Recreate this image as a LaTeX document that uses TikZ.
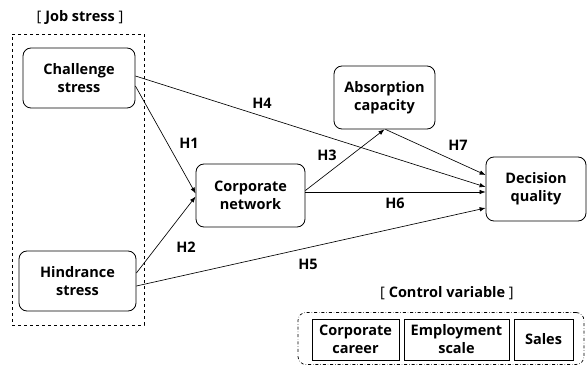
\documentclass[tikz,border=0pt]{standalone}
\usepackage{fontspec}
\setmainfont{Open Sans}
\usetikzlibrary{arrows.meta,positioning}

\begin{document}
\begin{tikzpicture}
		[x=1pt,y=-1pt,
		font=\fontsize{14.5}{18}\selectfont\bfseries,
		var/.style={draw,rounded corners=8pt,align=center,inner sep=0pt,
			line width=0.8pt},
		ctrl/.style={draw,align=center,inner sep=0pt,line width=0.8pt,
			minimum height=41pt},
		hyp/.style={-{Latex[length=6pt,width=4.5pt]},line width=0.65pt},
		lab/.style={inner sep=1pt}]
		\useasboundingbox (0,0) rectangle (587,366);
		% job stress group
		\node[draw,dashed,minimum width=132pt,minimum height=291pt,line width=0.7pt]
			(jobbox) at (78,179.5) {};
		\node (jobtitle) at (80,18) {{\mdseries[}\ Job stress\ {\mdseries]}};
		\node[var,minimum width=112pt,minimum height=60pt] (cs) at (79,78) {Challenge\\stress};
		\node[var,minimum width=117pt,minimum height=60pt] (hs) at (77.5,281) {Hindrance\\stress};
		% mediators and outcome
		\node[var,minimum width=109pt,minimum height=63pt] (cn) at (250.5,195.5) {Corporate\\network};
		\node[var,minimum width=101pt,minimum height=63pt] (ac) at (384.5,97.5) {Absorption\\capacity};
		\node[var,minimum width=100pt,minimum height=64pt] (dq) at (536,189) {Decision\\quality};
		% control variables
		\node[draw,dash dot,rounded corners=8pt,minimum width=286pt,minimum height=52pt,
			line width=0.7pt] (ctrlbox) at (441,338.5) {};
		\node (ctrltitle) at (447,293) {{\mdseries[}\ Control variable\ {\mdseries]}};
		\node[ctrl,minimum width=87pt] (cc) at (355.5,339.5) {Corporate\\career};
		\node[ctrl,minimum width=105pt] (es) at (456.5,339.5) {Employment\\scale};
		\node[ctrl,minimum width=59pt] (sl) at (543.5,339.5) {Sales};
		% hypotheses
		\draw[hyp] ([yshift=-8pt]cs.east) -- ([yshift=2pt]cn.west);
		\draw[hyp] ([yshift=8pt]hs.east) -- ([yshift=-1pt]cn.west);
		\draw[hyp] ([yshift=5pt]cn.east) -- (ac.south);
		\draw[hyp] ([yshift=2pt]cs.east) -- ([yshift=2pt]dq.west);
		\draw[hyp] ([yshift=-5pt]hs.east) -- ([yshift=-19pt]dq.west);
		\draw[hyp] ([yshift=3.5pt]cn.east) -- ([yshift=-3pt]dq.west);
		\draw[hyp] ([xshift=1pt]ac.south) -- ([yshift=14pt]dq.west);
		\node[lab] (h1) at (189,143) {H1};
		\node[lab] (h2) at (186,247) {H2};
		\node[lab] (h3) at (327,155) {H3};
		\node[lab] (h4) at (262,103) {H4};
		\node[lab] (h5) at (308,264) {H5};
		\node[lab] (h6) at (395,203) {H6};
		\node[lab] (h7) at (458,145) {H7};
	\end{tikzpicture}
\end{document}
